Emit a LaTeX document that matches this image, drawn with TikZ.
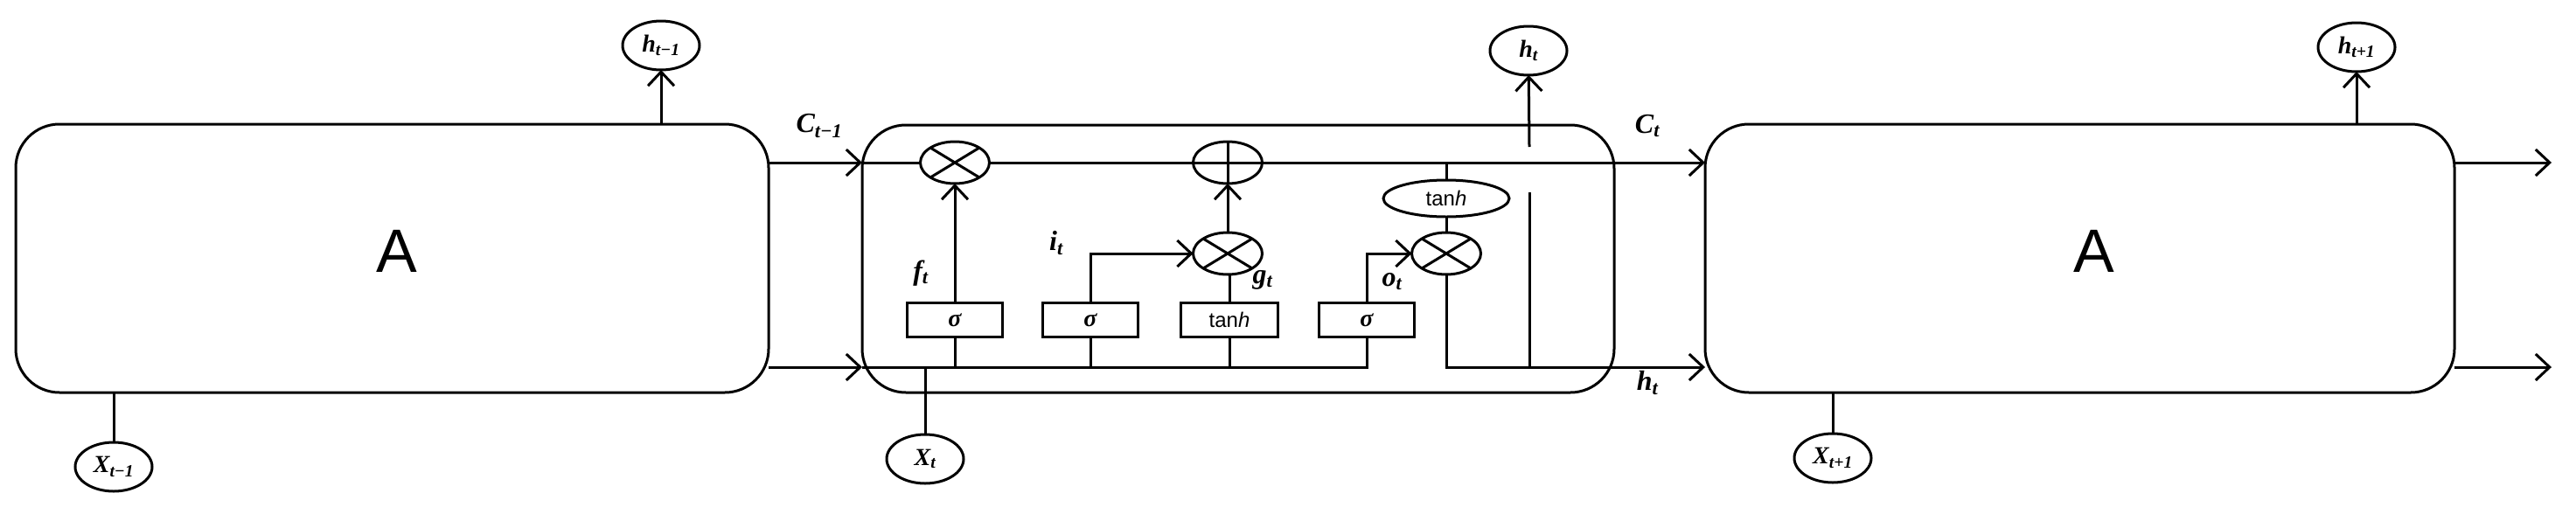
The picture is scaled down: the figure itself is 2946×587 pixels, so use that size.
\documentclass[tikz,border=0pt]{standalone}
\usepackage{fontspec}
\newfontfamily\arialf{Liberation Sans}
\newfontfamily\serf{Liberation Serif}
\newcommand{\lab}[2]{{\serf\bfseries\itshape #1\textsubscript{#2}}}
\usetikzlibrary{shapes.geometric,arrows.meta}
\begin{document}
\begin{tikzpicture}[x=1pt,y=-1pt,line width=3pt,
  cell/.style={draw,rounded corners=50pt,inner sep=0,outer sep=0},
  io/.style={draw,ellipse,minimum width=88pt,minimum height=56pt,inner sep=0,outer sep=0,font=\fontsize{28}{30}\selectfont},
  op/.style={draw,ellipse,minimum width=79pt,minimum height=48pt,inner sep=0,outer sep=0},
  gate/.style={draw,minimum width=109pt,minimum height=39pt,inner sep=0,outer sep=0,font=\fontsize{28}{30}\selectfont\serf\bfseries\itshape},
  lbl/.style={font=\fontsize{32}{34}\selectfont},
  arr/.style={-{Straight Barb[length=16pt,width=30pt,line width=3pt]}}]
\useasboundingbox (0,0) rectangle (2946,587);
% big boxes
\node[cell,minimum width=861pt,minimum height=307pt] (A1) at (448.5,295.5) {};
\node[cell,minimum width=860pt,minimum height=306pt] (M) at (1416,296) {};
\node[cell,minimum width=857pt,minimum height=307pt] (A2) at (2378.5,295.5) {};
\node[font=\arialf\fontsize{70}{72}\selectfont] (tA1) at (454,287) {A};
\node[font=\arialf\fontsize{70}{72}\selectfont] (tA2) at (2395,287) {A};
% io circles
\node[io] (hm) at (756,52) {\lab{h}{t−1}};
\node[io] (ht) at (1748,58) {\lab{h}{t}};
\node[io] (hp) at (2695,54) {\lab{h}{t+1}};
\node[io] (xm) at (130,534) {\lab{X}{t−1}};
\node[io] (xt) at (1058,525) {\lab{X}{t}};
\node[io] (xp) at (2096,524) {\lab{X}{t+1}};
% coordinates
\coordinate (a1top) at (756,142);
\coordinate (a2top) at (2695,142);
\coordinate (a1bot) at (130,449);
\coordinate (a2bot) at (2096,449);
\coordinate (a1c) at (879,186);
\coordinate (a1h) at (879,420);
\coordinate (mcw) at (986,186);
\coordinate (mhw) at (986,420);
\coordinate (a2cw) at (1950,186);
\coordinate (a2hw) at (1950,420);
\coordinate (a2ce) at (2807,186);
\coordinate (a2he) at (2807,420);
\coordinate (oc) at (2918,186);
\coordinate (oh) at (2918,420);
\coordinate (xtj) at (1058,420);
\coordinate (hjend) at (1563,420);
\coordinate (ho1) at (1654,420);
\coordinate (ho2) at (1749,420);
\coordinate (hup) at (1749,220);
\coordinate (hst) at (1749,168);
\coordinate (ct) at (1654,186);
% ops
\node[op] (fx) at (1092,186) {};
\node[op] (pl) at (1404,186) {};
\node[op] (ix) at (1404,290) {};
\node[op] (ox) at (1654,290) {};
\node[draw,ellipse,minimum width=144pt,minimum height=42pt,inner sep=0,outer sep=0,font=\arialf\fontsize{24}{26}\selectfont] (th) at (1654,227) {tan\textit{h}};
\foreach \n in {fx,ix,ox}{\draw (\n.north east)--(\n.south west) (\n.north west)--(\n.south east);}
\draw (pl.north)--(pl.south) (pl.west)--(pl.east);
% gates
\node[gate] (g1) at (1092,366) {σ};
\node[gate] (g2) at (1247,366) {σ};
\node[gate,minimum width=111pt,font=\arialf\fontsize{24}{26}\selectfont] (g3) at (1406,366) {tan\textit{h}};
\node[gate] (g4) at (1563,366) {σ};
% connectors outside
\draw[arr] (a1top)--(hm);
\draw[arr] (a2top)--(hp);
\draw (xm)--(a1bot);
\draw (xp)--(a2bot);
\draw[arr] (a1c)--(mcw);
\draw[arr] (a1h)--(mhw);
\draw[arr] (a2ce)--(oc);
\draw[arr] (a2he)--(oh);
% cell state
\draw (mcw)--(fx);
\draw (fx)--(pl);
\draw[arr] (pl)--(a2cw);
% hidden input bus
\draw (mhw)--(hjend)--(g4);
\draw (xt)--(xtj);
\draw (g1.south)--(g1.south|-mhw);
\draw (g2.south)--(g2.south|-mhw);
\draw (g3.south)--(g3.south|-mhw);
\draw[arr] (g1)--(fx);
\draw[arr] (g2.north)|-(ix);
\draw (g3)--(ix.south-|g3);
\draw[arr] (ix)--(pl);
\draw[arr] (g4.north)|-(ox);
\draw (ct)--(th);
\draw (th)--(ox);
\draw (ox)--(ho1)--(ho2);
\draw[arr] (ho2)--(a2hw);
\draw (ho2)--(hup);
\draw[arr] (hst)--(ht);
% labels
\node[lbl] (lc1) at (937,144) {\lab{C}{t−1}};
\node[lbl] (lc2) at (1884,144) {\lab{C}{t}};
\node[lbl] (lh) at (1884,438) {\lab{h}{t}};
\node[lbl] (lf) at (1053,313) {\lab{f}{t}};
\node[lbl] (li) at (1208,278) {\lab{i}{t}};
\node[lbl] (lg) at (1444,320) {\lab{g}{t}};
\node[lbl] (lo) at (1592,322) {\lab{o}{t}};
\end{tikzpicture}
\end{document}
